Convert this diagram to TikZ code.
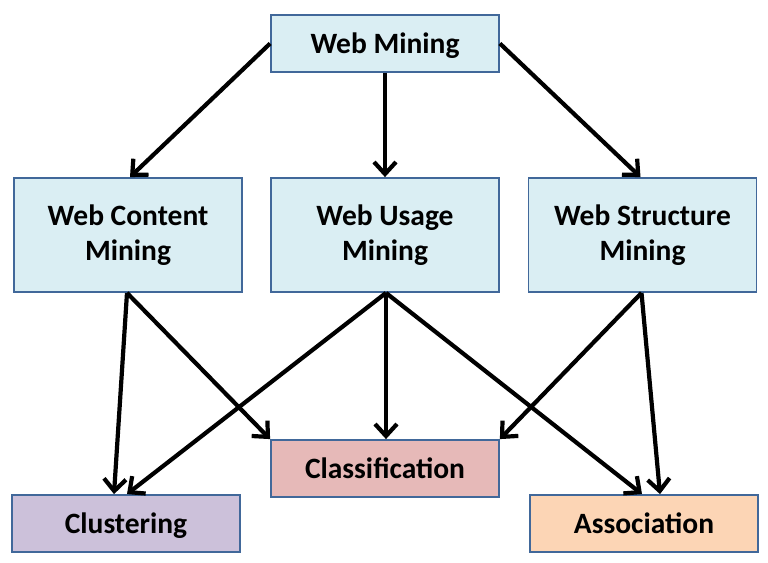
\documentclass[tikz,border=0pt]{standalone}
\usepackage{fontspec}
\setmainfont{Carlito}
\usetikzlibrary{arrows.meta}
\definecolor{boxblue}{HTML}{DAEEF3}
\definecolor{boxborder}{HTML}{41689A}
\definecolor{boxred}{HTML}{E6B9B8}
\definecolor{boxpurple}{HTML}{CCC1DA}
\definecolor{boxorange}{HTML}{FCD5B5}
\tikzset{
  mbox/.style={draw=boxborder, line width=1.8pt, minimum width=228pt, inner sep=0pt,
    align=center, font=\fontsize{29.5}{35}\selectfont\bfseries, text=black},
  onebox/.style={mbox, minimum height=57pt, text height=22pt, text depth=3pt},
  twobox/.style={mbox, minimum height=114pt},
  conn/.style={line width=4.2pt, black, -{Straight Barb[length=12pt,width=22pt]}}
}
\begin{document}
\begin{tikzpicture}[x=1pt,y=-1pt]
\useasboundingbox (0,0) rectangle (768,562);
\node[onebox, fill=boxblue] (wm) at (385,43.5) {Web Mining};
\node[twobox, fill=boxblue] (wc) at (128,235) {\rule{0pt}{4pt}Web Content\\Mining};
\node[twobox, fill=boxblue] (wu) at (385,235) {\rule{0pt}{4pt}Web Usage\\Mining};
\node[twobox, fill=boxblue] (ws) at (642.5,235) {\rule{0pt}{4pt}Web Structure\\Mining};
\node[onebox, fill=boxred] (cl) at (385,468.5) {Classification};
\node[onebox, fill=boxpurple] (cu) at (126,523.5) {Clustering};
\node[onebox, fill=boxorange] (as) at (644,523.5) {Association};

\draw[conn] (wm.west) -- ([xshift=2pt]wc.north);
\draw[conn] (wm.south) -- (wu.north);
\draw[conn] (wm.east) -- ([xshift=-2pt]ws.north);

\draw[conn] ([xshift=-1pt]wc.south) -- ([xshift=-12pt]cu.north);
\draw[conn] ([xshift=-1pt]wc.south) -- (cl.north west);
\draw[conn] ([xshift=1pt]wu.south) -- ([xshift=1pt]cu.north);
\draw[conn] ([xshift=1pt]wu.south) -- ([xshift=1pt]cl.north);
\draw[conn] ([xshift=1pt]wu.south) -- ([xshift=-2pt]as.north);
\draw[conn] ([xshift=-1pt]ws.south) -- (cl.north east);
\draw[conn] ([xshift=-1pt]ws.south) -- ([xshift=16pt]as.north);
\end{tikzpicture}
\end{document}
